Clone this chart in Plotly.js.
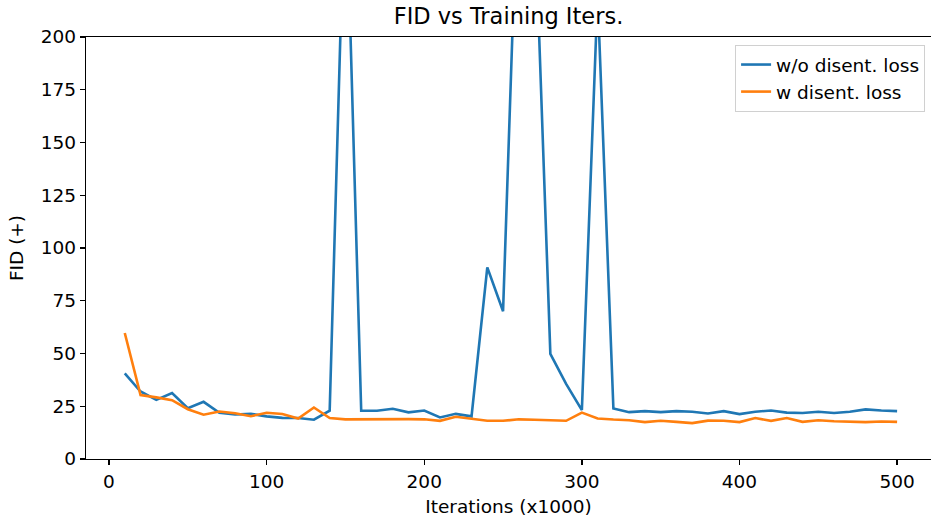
<!DOCTYPE html>
<html>
<head>
<meta charset="utf-8">
<script src="https://cdn.plot.ly/plotly-3.0.1.min.js"></script>
<style>html,body{margin:0;padding:0;background:#fff;}#chart{width:931px;height:517px;}</style>
</head>
<body>
<div id="chart"></div>
<script>
const iters = [10,20,30,40,50,60,70,80,90,100,110,120,130,140,150,160,170,180,190,200,210,220,230,240,250,260,270,280,290,300,310,320,330,340,350,360,370,380,390,400,410,420,430,440,450,460,470,480,490,500];
const fidWithout = [40.6,32.0,28.0,31.3,24.1,27.1,21.9,21.1,21.4,20.2,19.5,19.4,18.6,22.9,285,22.9,22.9,23.8,22.1,23.0,19.7,21.4,20.2,90.8,70.0,292,262,49.8,35.6,23.2,220,23.9,22.2,22.7,22.2,22.7,22.4,21.6,22.7,21.3,22.4,23.0,22.0,21.8,22.4,21.8,22.4,23.5,23.0,22.7];
const fidWith = [59.7,30.3,29.2,27.9,23.6,21.0,22.5,21.7,20.3,21.9,21.3,19.2,24.4,19.4,18.8,18.9,18.9,18.9,18.9,18.8,18.1,20.0,19.2,18.1,18.1,18.8,18.6,18.4,18.1,22.0,19.2,18.7,18.4,17.5,18.1,17.6,17.0,18.2,18.1,17.5,19.4,18.1,19.4,17.6,18.4,17.9,17.8,17.5,17.8,17.6];
const seriesNames = ["w/o disent. loss", "w disent. loss"];
const yTicks = [0,25,50,75,100,125,150,175,200];
const xTicks = [0,100,200,300,400,500];

const font = "DejaVu Sans, sans-serif";
const fs = 18.5;
const data = [
  {x: iters, y: fidWithout, type: "scatter", mode: "lines", name: seriesNames[0],
   line: {color: "#1f77b4", width: 2.6}},
  {x: iters, y: fidWith, type: "scatter", mode: "lines", name: seriesNames[1],
   line: {color: "#ff7f0e", width: 2.6}}
];
const layout = {
  width: 931, height: 517,
  margin: {l: 86, r: 0, t: 37, b: 58},
  paper_bgcolor: "#fff", plot_bgcolor: "#fff",
  font: {family: font, size: fs, color: "#000"},
  title: {text: "FID vs Training Iters.", font: {family: font, size: 22.5, color: "#000"},
          xref: "paper", x: 0.5, xanchor: "center", y: 0.969, yanchor: "middle"},
  xaxis: {
    range: [-14.6, 521.5], tickvals: xTicks, ticktext: xTicks.map(String),
    showgrid: false, zeroline: false, showline: true, linecolor: "#000", linewidth: 1.3,
    mirror: true, ticks: "outside", ticklen: 5, tickwidth: 1.3, tickcolor: "#000",
    tickfont: {family: font, size: fs, color: "#000"},
    title: {text: "Iterations (x1000)", font: {family: font, size: fs, color: "#000"}, standoff: 9}
  },
  yaxis: {
    range: [0, 200], tickvals: yTicks, ticktext: yTicks.map(String),
    showgrid: false, zeroline: false, showline: true, linecolor: "#000", linewidth: 1.3,
    ticks: "outside", ticklen: 5, tickwidth: 1.3, tickcolor: "#000",
    tickfont: {family: font, size: fs, color: "#000"},
    title: {text: "FID (+)", font: {family: font, size: fs, color: "#000"}, standoff: 12}
  },
  showlegend: true,
  legend: {
    x: 0.993, xanchor: "right", y: 0.981, yanchor: "top",
    bgcolor: "rgba(255,255,255,0.8)", bordercolor: "#d0d0d0", borderwidth: 1,
    font: {family: font, size: fs, color: "#000"}, tracegroupgap: 0
  }
};
Plotly.newPlot("chart", data, layout, {displayModeBar: false, staticPlot: true});
</script>
</body>
</html>
